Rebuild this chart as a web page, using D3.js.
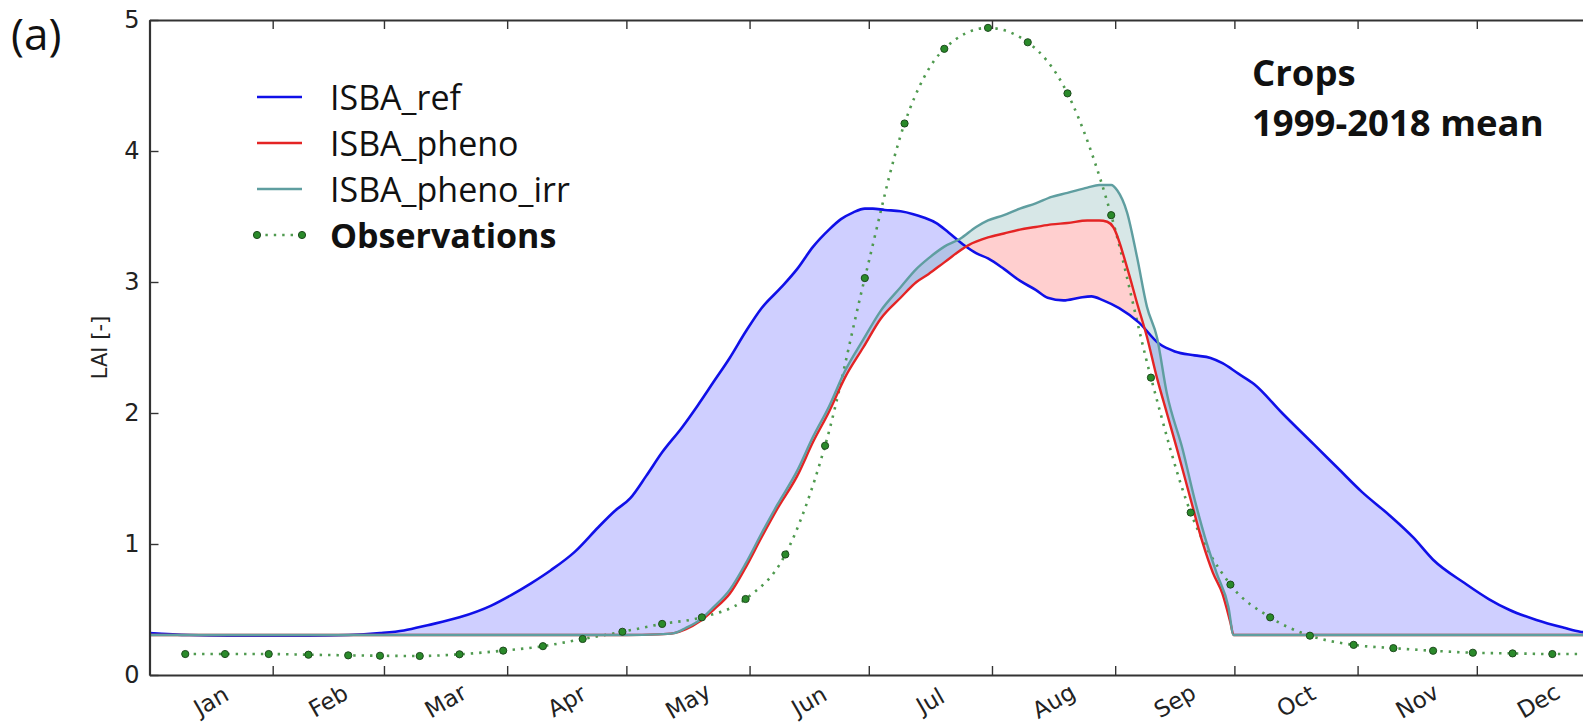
<!DOCTYPE html>
<html>
<head>
<meta charset="utf-8">
<script src="https://cdn.jsdelivr.net/npm/d3@7"></script>
<style>
  body { margin: 0; background: #fff; }
  svg { display: block; }
  .axis .tick text { font-family: "DejaVu Sans", sans-serif; fill: #222; }
  .axis path, .axis line { stroke: #333; }
</style>
</head>
<body>
<div id="chart"></div>
<script>
// month labels, y ticks, legend
const monthLabels = ['Jan', 'Feb', 'Mar', 'Apr', 'May', 'Jun', 'Jul', 'Aug', 'Sep', 'Oct', 'Nov', 'Dec'];
const yTicks = [0, 1, 2, 3, 4, 5];
const legendLabels = ['ISBA_ref', 'ISBA_pheno', 'ISBA_pheno_irr', 'Observations'];

// [day of year (0 = Jan 1), LAI]
const isbaRef = [
	[0, 0.32], [10, 0.305], [20, 0.30], [30, 0.30], [40, 0.30], [50, 0.305], [58, 0.32], [64, 0.34],
	[70, 0.38], [78, 0.44], [86, 0.53], [91, 0.61], [96, 0.70], [101, 0.80], [107, 0.94], [113, 1.13],
	[117, 1.25], [121, 1.35], [125, 1.52], [129, 1.70], [134, 1.89], [138, 2.06], [142, 2.24], [146, 2.42],
	[150, 2.62], [154, 2.80], [159, 2.96], [163, 3.10], [167, 3.27], [171, 3.40], [174, 3.48], [177, 3.53],
	[180, 3.56], [182, 3.56], [185, 3.55], [189, 3.54], [192, 3.52], [195, 3.49], [198, 3.45], [201, 3.38],
	[205, 3.28], [208, 3.22], [211, 3.18], [215, 3.10], [219, 3.01], [223, 2.94], [226, 2.88], [230, 2.86],
	[234, 2.88], [237, 2.89], [240, 2.86], [244, 2.80], [249, 2.69], [254, 2.53], [258, 2.47], [263, 2.44],
	[267, 2.42], [270, 2.38], [274, 2.30], [278, 2.22], [285, 2.00], [293, 1.76], [299, 1.58], [305, 1.40],
	[312, 1.22], [318, 1.05], [323, 0.88], [331, 0.70], [337, 0.58], [342, 0.50], [349, 0.42], [356, 0.36],
	[360, 0.33], [364, 0.32]
];

const isbaPheno = [
	[0, 0.305], [120, 0.305], [128, 0.31], [132, 0.32], [135, 0.35], [138.5, 0.41], [142, 0.50], [146, 0.62],
	[150, 0.82], [154, 1.05], [158, 1.27], [163, 1.52], [167, 1.78], [171, 2.01], [175, 2.27], [179.6, 2.50],
	[184, 2.72], [189, 2.88], [193, 3.00], [196, 3.06], [200, 3.15], [206, 3.28], [211, 3.34], [215, 3.37],
	[219, 3.40], [223, 3.42], [227, 3.44], [231, 3.45], [236, 3.47], [239, 3.47], [241, 3.46], [242.5, 3.42],
	[246, 3.11], [248.5, 2.84], [251, 2.58], [253.5, 2.27], [256, 2.00], [258.6, 1.72], [262, 1.34], [265, 1.01],
	[267.6, 0.78], [270, 0.62], [272, 0.40], [272.8, 0.305], [364, 0.305]
];

const isbaPhenoIrr = [
	[0, 0.305], [120, 0.305], [128, 0.31], [132, 0.32], [135, 0.36], [138.5, 0.42], [142, 0.52], [146, 0.65],
	[150, 0.85], [154, 1.08], [158, 1.30], [163, 1.56], [167, 1.82], [171, 2.05], [175, 2.32], [179.6, 2.56],
	[184, 2.78], [189, 2.96], [193, 3.10], [196, 3.18], [200, 3.27], [204, 3.33], [208, 3.42], [211, 3.47],
	[215, 3.51], [219, 3.56], [223, 3.60], [227, 3.65], [231, 3.68], [236, 3.72], [239, 3.74], [242, 3.74],
	[243.5, 3.70], [246, 3.53], [248.5, 3.19], [251, 2.81], [253.5, 2.58], [256, 2.15], [260, 1.72], [263, 1.34],
	[266, 1.01], [268.5, 0.78], [271.5, 0.52], [272.8, 0.305], [364, 0.305]
];

// dekad observations
const obsDays = [9, 19, 30, 40, 50, 58, 68, 78, 89, 99, 109, 119, 129, 139, 150, 160, 170, 180,
	190, 200, 211, 221, 231, 242, 252, 262, 272, 282, 292, 303, 313, 323, 333, 343, 353, 364];
const obsLai = [0.16, 0.16, 0.16, 0.155, 0.15, 0.147, 0.145, 0.158, 0.186, 0.22, 0.275, 0.33, 0.39, 0.44, 0.58, 0.92, 1.75, 3.03,
	4.21, 4.78, 4.94, 4.83, 4.44, 3.51, 2.27, 1.24, 0.69, 0.44, 0.30, 0.23, 0.205, 0.185, 0.17, 0.165, 0.16, 0.16];

const WIDTH = 1583, HEIGHT = 727;
const LEFT = 149.5, RIGHT = 1600, TOP = 20, BOTTOM = 675;
const TEXT_FONT = '"Open Sans", "Noto Sans", sans-serif';
const TICK_FONT = '"DejaVu Sans", sans-serif';

const BLUE = '#1010e8', RED = '#e42424', TEAL = '#5f9ea0', GREEN = '#2a8a2a', OBS_LINE = '#4f9a4f';

const toDate = (day) => new Date(Date.UTC(2001, 0, 1) + day * 864e5);

const x = d3.scaleUtc().domain([toDate(0), toDate(365)]).range([LEFT, RIGHT]);
const y = d3.scaleLinear().domain([0, 5]).range([BOTTOM, TOP]);

const svg = d3.select('#chart').append('svg')
	.attr('width', WIDTH)
	.attr('height', HEIGHT);

const defs = svg.append('defs');
defs.append('clipPath').attr('id', 'plot-clip')
	.append('rect')
	.attr('x', LEFT).attr('y', TOP)
	.attr('width', RIGHT - LEFT).attr('height', BOTTOM - TOP);

const pts = (s) => s.map((d) => [x(toDate(d[0])), y(d[1])]);
const smooth = d3.line().curve(d3.curveMonotoneX);
const line = (s) => smooth(pts(s));

// polygon between two curves (both lobes filled)
function between(a, b) {
	return smooth(pts(a)) + smooth(pts(b).reverse()).replace(/^M/, 'L') + 'Z';
}
// region above a curve, keeps only the part where the other curve is higher
function above(s) {
	const p = pts(s);
	return smooth(p) + 'L' + p[p.length - 1][0] + ',' + (TOP - 50) + 'L' + p[0][0] + ',' + (TOP - 50) + 'Z';
}

defs.append('clipPath').attr('id', 'above-pheno').append('path').attr('d', above(isbaPheno));
defs.append('clipPath').attr('id', 'above-ref').append('path').attr('d', above(isbaRef));

const plot = svg.append('g').attr('clip-path', 'url(#plot-clip)');

plot.append('path')
	.attr('d', between(isbaRef, isbaPheno))
	.attr('clip-path', 'url(#above-pheno)')
	.attr('fill', '#0000ff').attr('fill-opacity', 0.19);

plot.append('path')
	.attr('d', between(isbaPheno, isbaRef))
	.attr('clip-path', 'url(#above-ref)')
	.attr('fill', '#ff0000').attr('fill-opacity', 0.19);

plot.append('path')
	.attr('d', between(isbaPhenoIrr, isbaPheno))
	.attr('clip-path', 'url(#above-pheno)')
	.attr('fill', TEAL).attr('fill-opacity', 0.25);

// observations: dotted line + markers
const obs = obsDays.map((d, i) => [d, obsLai[i]]);

plot.append('path')
	.attr('d', line(obs))
	.attr('fill', 'none')
	.attr('stroke', OBS_LINE)
	.attr('stroke-width', 2.6)
	.attr('stroke-dasharray', '2.4,6');

const series = [
	{ data: isbaRef, color: BLUE, width: 2.6 },
	{ data: isbaPheno, color: RED, width: 2.4 },
	{ data: isbaPhenoIrr, color: TEAL, width: 2.4 }
];

plot.selectAll('.model-line')
	.data(series)
	.enter()
	.append('path')
	.attr('class', 'model-line')
	.attr('d', (d) => line(d.data))
	.attr('fill', 'none')
	.attr('stroke', (d) => d.color)
	.attr('stroke-width', (d) => d.width)
	.attr('stroke-linejoin', 'round');

plot.selectAll('.obs')
	.data(obs)
	.enter()
	.append('circle')
	.attr('class', 'obs')
	.attr('cx', (d) => x(toDate(d[0])))
	.attr('cy', (d) => y(d[1]))
	.attr('r', 3.6)
	.attr('fill', GREEN)
	.attr('stroke', '#1d4a1d')
	.attr('stroke-width', 1);

// axes, ticks pointing inwards
const monthStarts = d3.utcMonth.range(toDate(0), toDate(365));

svg.append('g')
	.attr('class', 'axis x-bottom')
	.attr('transform', 'translate(0,' + BOTTOM + ')')
	.call(d3.axisBottom(x).tickValues(monthStarts).tickFormat('').tickSizeInner(-9).tickSizeOuter(0));

svg.append('g')
	.attr('class', 'axis x-top')
	.attr('transform', 'translate(0,' + TOP + ')')
	.call(d3.axisTop(x).tickValues(monthStarts).tickFormat('').tickSizeInner(-9).tickSizeOuter(0));

svg.append('g')
	.attr('class', 'axis y-left')
	.attr('transform', 'translate(' + LEFT + ',0)')
	.call(d3.axisLeft(y).tickValues(yTicks).tickFormat(d3.format('d')).tickSizeInner(-9).tickSizeOuter(0).tickPadding(10))
	.call((g) => g.selectAll('.tick text').attr('font-size', 24));

svg.append('g')
	.attr('class', 'axis y-right')
	.attr('transform', 'translate(' + RIGHT + ',0)')
	.call(d3.axisRight(y).tickValues(yTicks).tickFormat('').tickSizeInner(-9).tickSizeOuter(0));

svg.selectAll('.axis path.domain').attr('stroke-width', 2.2);
svg.selectAll('.axis .tick line').attr('stroke-width', 1.4);

// month labels at mid-month, rotated
svg.append('g')
	.selectAll('text')
	.data(monthLabels)
	.enter()
	.append('text')
	.attr('transform', (d, i) => {
		const start = d3.utcMonth.offset(toDate(0), i);
		const end = d3.utcMonth.offset(toDate(0), i + 1);
		const mid = new Date((start.getTime() + end.getTime()) / 2);
		return 'translate(' + x(mid) + ',701) rotate(-30)';
	})
	.attr('text-anchor', 'middle')
	.attr('dominant-baseline', 'central')
	.attr('font-family', TICK_FONT)
	.attr('font-size', 23)
	.attr('fill', '#222')
	.text((d) => d);

svg.append('text')
	.attr('transform', 'translate(100,' + y(2.5) + ') rotate(-90)')
	.attr('text-anchor', 'middle')
	.attr('dominant-baseline', 'central')
	.attr('font-family', TICK_FONT)
	.attr('font-size', 21)
	.attr('fill', '#222')
	.text('LAI [-]');

// panel letter and title
svg.append('text')
	.attr('x', 11).attr('y', 50)
	.attr('font-family', TEXT_FONT)
	.attr('font-size', 44)
	.attr('fill', '#111')
	.text('(a)');

const title = svg.append('text')
	.attr('font-family', TEXT_FONT)
	.attr('font-size', 36.5)
	.attr('font-weight', 'bold')
	.attr('fill', '#111');
title.append('tspan').attr('x', 1252).attr('y', 86).text('Crops');
title.append('tspan').attr('x', 1252).attr('y', 136).text('1999-2018 mean');

// legend
const legend = svg.append('g').attr('class', 'legend');
const legendStyles = [
	{ color: BLUE, width: 2.6 },
	{ color: RED, width: 2.4 },
	{ color: TEAL, width: 2.4 },
	{ color: OBS_LINE, width: 2.6, dotted: true }
];

legendLabels.forEach((label, i) => {
	const baseY = 110 + i * 46;
	const s = legendStyles[i];
	legend.append('line')
		.attr('x1', 257).attr('x2', 302)
		.attr('y1', baseY - 13).attr('y2', baseY - 13)
		.attr('stroke', s.color)
		.attr('stroke-width', s.width)
		.attr('stroke-dasharray', s.dotted ? '2.4,6' : null);
	if (s.dotted) {
		[257, 302].forEach((cx) => {
			legend.append('circle')
				.attr('cx', cx).attr('cy', baseY - 13).attr('r', 3.6)
				.attr('fill', GREEN).attr('stroke', '#1d4a1d').attr('stroke-width', 1);
		});
	}
	legend.append('text')
		.attr('x', 330).attr('y', baseY)
		.attr('font-family', TEXT_FONT)
		.attr('font-size', 34)
		.attr('font-weight', s.dotted ? 'bold' : 'normal')
		.attr('fill', '#111')
		.text(label);
});
</script>
</body>
</html>
